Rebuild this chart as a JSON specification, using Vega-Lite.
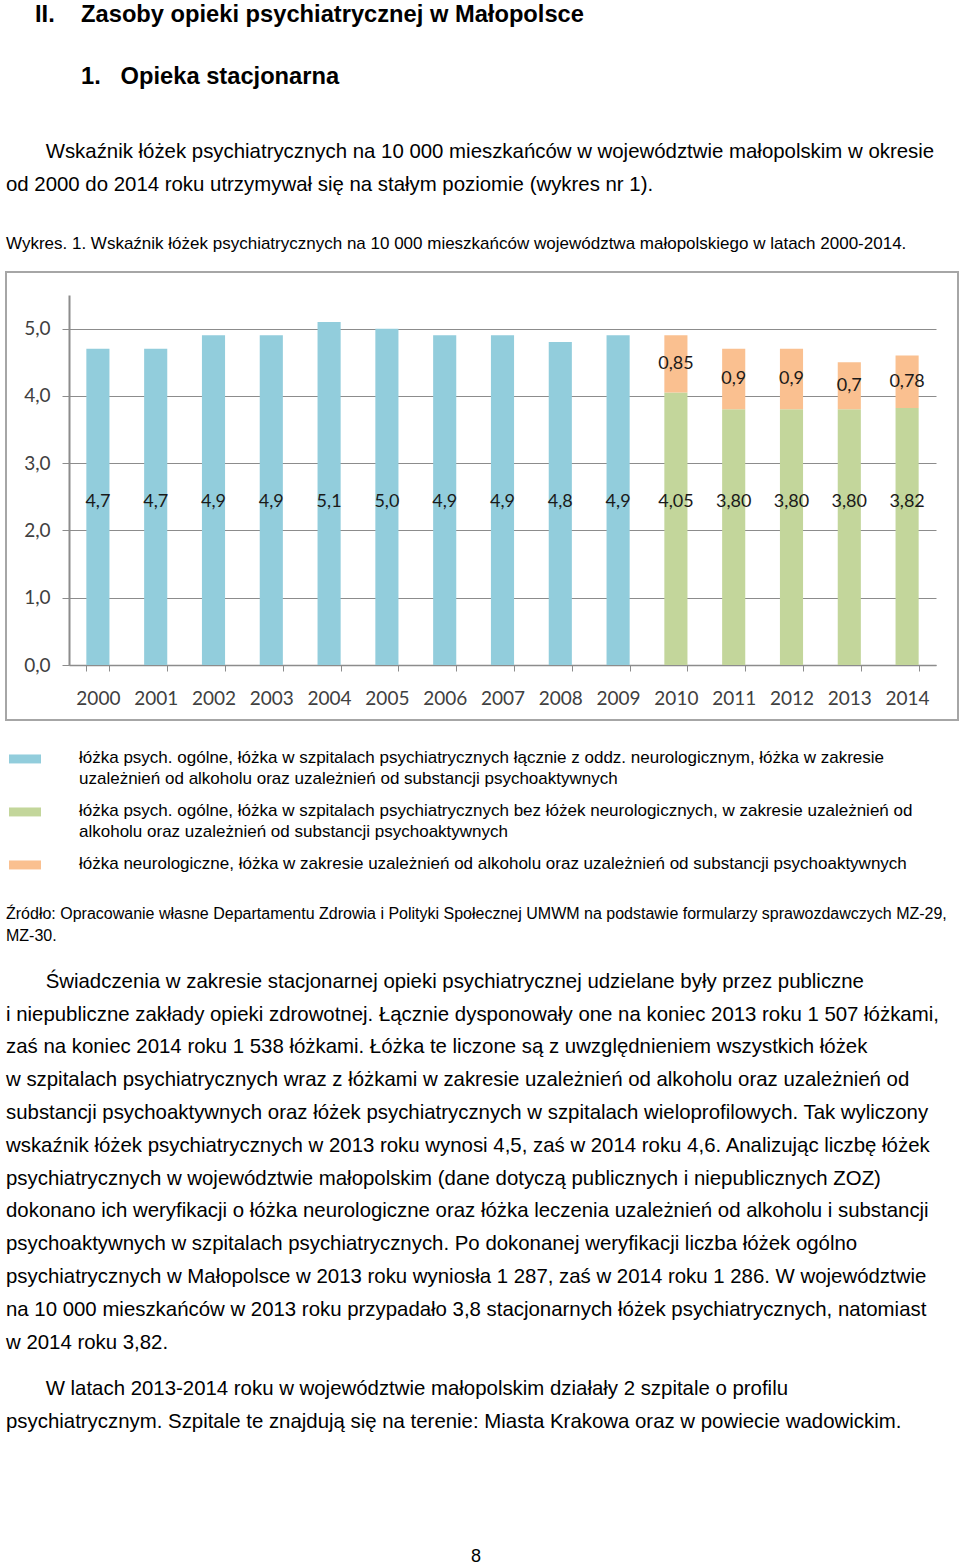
{
  "$schema": "https://vega.github.io/schema/vega-lite/v6.json",
  "padding": {"left": 5, "top": 3, "right": 0, "bottom": 0},
  "background": "white",
  "spacing": 5,
  "resolve": {"legend": {"color": "independent"}, "scale": {"color": "independent"}},
  "config": {
    "view": {"stroke": null},
    "font": "Liberation Sans",
    "title": {"anchor": "start", "color": "#000000", "subtitleColor": "#000000", "font": "Liberation Sans", "subtitleFont": "Liberation Sans", "fontWeight": "normal", "subtitleFontWeight": "normal"},
    "style": {"guide-label": {"lineHeight": 21}}
  },
  "title": {
    "text": "II.\u00a0\u00a0\u00a0\u00a0Zasoby opieki psychiatrycznej w Małopolsce",
    "subtitle": "\u200b\u00a0\u00a0\u00a0\u00a0\u00a0\u00a0\u00a01.\u00a0\u00a0\u00a0Opieka stacjonarna",
    "dx": 30,
    "fontSize": 23.7,
    "fontWeight": "bold",
    "subtitleFontSize": 23.7,
    "subtitleFontWeight": "bold",
    "subtitlePadding": 38,
    "offset": 52
  },
  "vconcat": [
    {
      "width": 952,
      "height": 448,
      "view": {"stroke": "#a6a6a6", "strokeWidth": 2},
      "title": {
        "text": ["\u200b\u00a0\u00a0\u00a0\u00a0\u00a0\u00a0\u00a0Wskaźnik łóżek psychiatrycznych na 10 000 mieszkańców w województwie małopolskim w okresie", "od 2000 do 2014 roku utrzymywał się na stałym poziomie (wykres nr 1)."],
        "subtitle": "Wykres. 1. Wskaźnik łóżek psychiatrycznych na 10 000 mieszkańców województwa małopolskiego w latach 2000-2014.",
        "fontSize": 20.4,
        "lineHeight": 33,
        "subtitleFontSize": 17,
        "subtitlePadding": 41,
        "offset": 20
      },
      "data": {"values": [
        {"year": "2000", "series": "1", "value": 4.7, "label": "4,7"},
        {"year": "2001", "series": "1", "value": 4.7, "label": "4,7"},
        {"year": "2002", "series": "1", "value": 4.9, "label": "4,9"},
        {"year": "2003", "series": "1", "value": 4.9, "label": "4,9"},
        {"year": "2004", "series": "1", "value": 5.1, "label": "5,1"},
        {"year": "2005", "series": "1", "value": 5.0, "label": "5,0"},
        {"year": "2006", "series": "1", "value": 4.9, "label": "4,9"},
        {"year": "2007", "series": "1", "value": 4.9, "label": "4,9"},
        {"year": "2008", "series": "1", "value": 4.8, "label": "4,8"},
        {"year": "2009", "series": "1", "value": 4.9, "label": "4,9"},
        {"year": "2010", "series": "2", "value": 4.05, "label": "4,05"},
        {"year": "2011", "series": "2", "value": 3.80, "label": "3,80"},
        {"year": "2012", "series": "2", "value": 3.80, "label": "3,80"},
        {"year": "2013", "series": "2", "value": 3.80, "label": "3,80"},
        {"year": "2014", "series": "2", "value": 3.82, "label": "3,82"},
        {"year": "2010", "series": "3", "value": 0.85, "label": "0,85"},
        {"year": "2011", "series": "3", "value": 0.9, "label": "0,9"},
        {"year": "2012", "series": "3", "value": 0.9, "label": "0,9"},
        {"year": "2013", "series": "3", "value": 0.7, "label": "0,7"},
        {"year": "2014", "series": "3", "value": 0.78, "label": "0,78"}
      ]},
      "encoding": {
        "x": {
          "field": "year", "type": "ordinal",
          "scale": {"type": "band", "range": [63, 930], "paddingInner": 0.6, "paddingOuter": 0.3},
          "axis": {"title": null, "labelAngle": 0, "offset": -55, "tickBand": "extent", "tickSize": 6, "labelPadding": 18, "domainColor": "#8c8c8c", "domainWidth": 1.5, "tickColor": "#8c8c8c", "labelFont": "Lato", "labelFontSize": 19, "labelColor": "#404040", "grid": false}
        }
      },
      "layer": [
        {
          "mark": {"type": "bar"},
          "encoding": {
            "y": {
              "field": "value", "type": "quantitative", "stack": "zero",
              "scale": {"domain": [0, 5.5], "range": [393, 23], "nice": false},
              "axis": {"title": null, "values": [0, 1, 2, 3, 4, 5], "labelExpr": "replace(format(datum.value, '.1f'), '.', ',')", "offset": -63, "grid": true, "gridColor": "#8c8c8c", "gridWidth": 1, "domainColor": "#8c8c8c", "domainWidth": 2, "tickColor": "#8c8c8c", "tickSize": 7, "labelPadding": 12, "labelFont": "Lato", "labelFontSize": 19, "labelColor": "#404040"}
            },
            "color": {
              "field": "series", "type": "nominal",
              "scale": {"domain": ["1", "2", "3"], "range": ["#92CDDC", "#C3D69B", "#FAC090"]},
              "legend": {
                "title": null, "orient": "bottom", "offset": -13, "padding": 27, "direction": "vertical",
                "symbolType": "M-1,0.28H1V0.84H-1Z", "symbolSize": 1024, "symbolStrokeWidth": 0, "symbolOffset": -24,
                "labelFont": "Liberation Sans", "labelFontSize": 17, "labelColor": "#000000", "labelLimit": 1000, "labelOffset": 38, "labelBaseline": "top", "rowPadding": 0,
                "labelExpr": "datum.value == '1' ? ['łóżka psych. ogólne, łóżka w szpitalach psychiatrycznych łącznie z oddz. neurologicznym, łóżka w zakresie', 'uzależnień od alkoholu oraz uzależnień od substancji psychoaktywnych'] : datum.value == '2' ? ['łóżka psych. ogólne, łóżka w szpitalach psychiatrycznych bez łóżek neurologicznych, w zakresie  uzależnień        od', 'alkoholu oraz uzależnień od substancji psychoaktywnych'] : 'łóżka neurologiczne, łóżka w zakresie uzależnień od alkoholu oraz uzależnień od substancji psychoaktywnych'"
              }
            },
            "order": {"field": "series", "sort": "ascending"}
          }
        },
        {
          "transform": [{"filter": "datum.series != '3'"}],
          "mark": {"type": "text", "font": "Lato", "fontSize": 18, "color": "#1a1a1a"},
          "encoding": {
            "y": {"datum": 2.42, "type": "quantitative", "title": null},
            "text": {"field": "label"}
          }
        },
        {
          "transform": [
            {"stack": "value", "groupby": ["year"], "sort": [{"field": "series", "order": "ascending"}], "as": ["v0", "v1"]},
            {"filter": "datum.series == '3'"},
            {"fold": ["v0", "v1"], "as": ["k", "pos"]},
            {"aggregate": [{"op": "mean", "field": "pos", "as": "mid"}], "groupby": ["year", "label"]}
          ],
          "mark": {"type": "text", "font": "Lato", "fontSize": 18, "color": "#1a1a1a"},
          "encoding": {
            "y": {"field": "mid", "type": "quantitative", "title": null},
            "text": {"field": "label"}
          }
        }
      ]
    },
    {
      "width": 952,
      "height": 0,
      "data": {"values": []},
      "mark": "point",
      "title": {
        "text": ["Źródło: Opracowanie własne Departamentu Zdrowia i Polityki Społecznej UMWM na podstawie formularzy sprawozdawczych MZ-29,", "MZ-30."],
        "fontSize": 16,
        "lineHeight": 22,
        "subtitle": [
          "\u200b\u00a0\u00a0\u00a0\u00a0\u00a0\u00a0\u00a0Świadczenia w zakresie stacjonarnej opieki psychiatrycznej udzielane były przez publiczne",
          "i niepubliczne zakłady opieki zdrowotnej. Łącznie dysponowały one na koniec 2013 roku 1 507 łóżkami,",
          "zaś na koniec 2014 roku 1 538 łóżkami. Łóżka te liczone są z uwzględnieniem wszystkich łóżek",
          "w szpitalach psychiatrycznych wraz z łóżkami w zakresie uzależnień od alkoholu oraz uzależnień od",
          "substancji psychoaktywnych oraz łóżek psychiatrycznych w szpitalach wieloprofilowych. Tak wyliczony",
          "wskaźnik łóżek psychiatrycznych w 2013 roku wynosi 4,5, zaś w 2014 roku 4,6. Analizując liczbę łóżek",
          "psychiatrycznych w województwie małopolskim (dane dotyczą publicznych i niepublicznych ZOZ)",
          "dokonano ich weryfikacji o łóżka neurologiczne oraz łóżka leczenia uzależnień od alkoholu i substancji",
          "psychoaktywnych w szpitalach psychiatrycznych. Po dokonanej weryfikacji liczba łóżek ogólno",
          "psychiatrycznych w Małopolsce w 2013 roku wyniosła 1 287, zaś w 2014 roku 1 286. W województwie",
          "na 10 000 mieszkańców w 2013 roku przypadało 3,8 stacjonarnych łóżek psychiatrycznych, natomiast",
          "w 2014 roku 3,82."
        ],
        "subtitleFontSize": 20.4,
        "subtitleLineHeight": 32.8,
        "subtitlePadding": 28,
        "offset": 0
      }
    },
    {
      "width": 952,
      "height": 111,
      "data": {"values": []},
      "mark": "point",
      "title": {
        "text": ["\u200b\u00a0\u00a0\u00a0\u00a0\u00a0\u00a0\u00a0W latach 2013-2014 roku w województwie małopolskim działały 2 szpitale o profilu", "psychiatrycznym. Szpitale te znajdują się na terenie: Miasta Krakowa oraz w powiecie wadowickim."],
        "fontSize": 20.4,
        "lineHeight": 33,
        "offset": 0
      }
    },
    {
      "width": 952,
      "height": 0,
      "data": {"values": []},
      "mark": "point",
      "title": {"text": "8", "anchor": "middle", "fontSize": 18, "dx": -6, "offset": 0}
    }
  ]
}
